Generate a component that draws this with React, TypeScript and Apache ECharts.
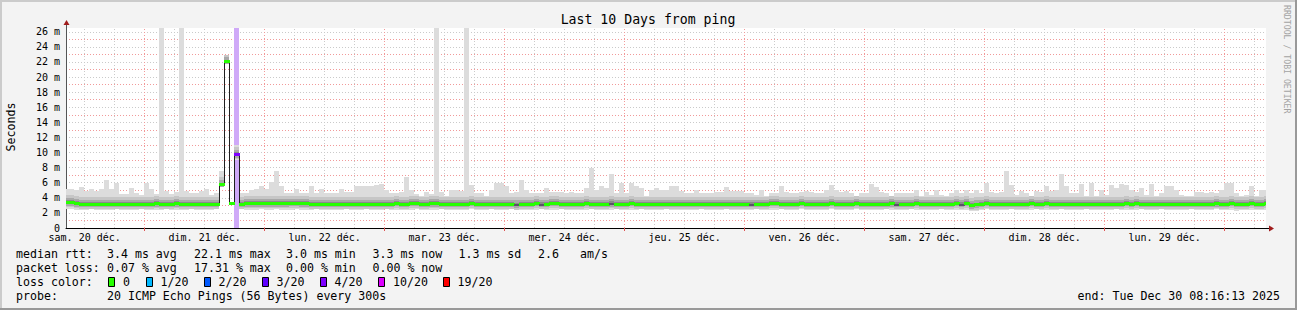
import React, { useEffect, useRef } from 'react';
import * as echarts from 'echarts';

// ---------- layout ----------
const CHART_W = 1297;
const CHART_H = 310;
const PLOT_LEFT = 66;
const PLOT_TOP = 28;
const PLOT_W = 1200;
const PLOT_H = 200;
const FONT = '"DejaVu Sans Mono", monospace';

// ---------- axes ----------
// x values are hours since Sat 20 Dec 2025 00:00
const START_HOUR = 8 + 16 / 60 + 13 / 3600; // 08:16:13
const END_HOUR = START_HOUR + 240; // 10 days later
const FIRST_BIN_HOUR = 8; // first (partial) one-hour bin starts 08:00
const BIN_HOURS = 1;
const Y_MAX = 26.5; // ms

const DAY_LABELS = [
  'sam. 20 déc.', 'dim. 21 déc.', 'lun. 22 déc.', 'mar. 23 déc.', 'mer. 24 déc.',
  'jeu. 25 déc.', 'ven. 26 déc.', 'sam. 27 déc.', 'dim. 28 déc.', 'lun. 29 déc.',
];
const DAY_LABEL_HOURS = [12, 36, 60, 84, 108, 132, 156, 180, 204, 228];
const MIDNIGHT_HOURS = [24, 48, 72, 96, 120, 144, 168, 192, 216, 240];
const SIX_HOUR_HOURS = [
  12, 18, 30, 36, 42, 54, 60, 66, 78, 84, 90, 102, 108, 114, 126, 132, 138,
  150, 156, 162, 174, 180, 186, 198, 204, 210, 222, 228, 234, 246,
];
const Y_UNIT = ' m';

// ---------- data: one value per hour, bins from Dec 20 08:00 to Dec 30 08:00 ----------
const MEDIAN = [
  3.35, 3.35, 3.2, 3.15, 3.15, 3.15, 3.15, 3.15, 3.15, 3.1, 3.1, 3.15, 3.15, 3.15, 3.15, 3.15, 3.15, 3.15, 3.2, 3.15, 3.15, 3.15, 3.2, 3.15,
  3.15, 3.15, 3.15, 3.15, 3.15, 3.15, 3.15, 5.7, 22.0, 3.2, 9.7, 3.15, 3.2, 3.2, 3.2, 3.2, 3.2, 3.2, 3.2, 3.2, 3.2, 3.25, 3.3, 3.2,
  3.2, 3.15, 3.15, 3.15, 3.15, 3.15, 3.15, 3.15, 3.15, 3.15, 3.15, 3.15, 3.15, 3.15, 3.15, 3.15, 3.15, 3.15, 3.3, 3.15, 3.15, 3.3, 3.3, 3.15,
  3.15, 3.2, 3.2, 3.15, 3.15, 3.15, 3.15, 3.15, 3.15, 3.3, 3.15, 3.15, 3.15, 3.15, 3.15, 3.15, 3.15, 3.15, 3.05, 3.15, 3.15, 3.15, 3.3, 3.1,
  3.15, 3.3, 3.3, 3.15, 3.15, 3.15, 3.15, 3.15, 3.3, 3.15, 3.15, 3.15, 3.15, 3.2, 3.15, 3.15, 3.15, 3.3, 3.15, 3.15, 3.15, 3.15, 3.15, 3.15,
  3.15, 3.15, 3.15, 3.15, 3.15, 3.15, 3.15, 3.15, 3.15, 3.15, 3.15, 3.15, 3.15, 3.15, 3.15, 3.15, 3.15, 3.1, 3.15, 3.15, 3.15, 3.3, 3.3, 3.15,
  3.15, 3.15, 3.15, 3.3, 3.15, 3.15, 3.15, 3.15, 3.15, 3.3, 3.15, 3.15, 3.15, 3.15, 3.3, 3.15, 3.15, 3.15, 3.15, 3.15, 3.15, 3.2, 3.1, 3.15,
  3.15, 3.15, 3.3, 3.15, 3.15, 3.15, 3.15, 3.15, 3.15, 3.15, 3.3, 3.1, 3.3, 2.95, 3.05, 3.15, 3.3, 3.15, 3.15, 3.15, 3.15, 3.15, 3.15, 3.15,
  3.15, 3.25, 3.15, 3.15, 3.3, 3.15, 3.15, 3.15, 3.15, 3.15, 3.15, 3.15, 3.15, 3.15, 3.15, 3.15, 3.15, 3.15, 3.15, 3.15, 3.3, 3.15, 3.3, 3.15,
  3.15, 3.15, 3.15, 3.15, 3.1, 3.15, 3.15, 3.15, 3.15, 3.15, 3.1, 3.15, 3.15, 3.15, 3.2, 3.15, 3.15, 3.3, 3.15, 3.15, 3.15, 3.25, 3.15, 3.15,
  3.3,
];

const SMOKE_MAX = [
  5.2, 5.2, 5.1, 5.4, 4.9, 5.2, 4.9, 5.2, 6.4, 5.2, 6.0, 4.5, 4.5, 5.3, 4.6, 4.4, 6.0, 5.2, 4.5, 26.5, 4.9, 4.5, 4.8, 26.5,
  4.9, 4.6, 4.6, 4.9, 5.2, 4.4, 4.6, 7.5, 22.9, 3.2, 11.0, 4.6, 4.6, 5.0, 5.2, 5.6, 5.2, 6.1, 7.5, 5.5, 4.6, 4.6, 5.2, 4.6,
  4.6, 5.5, 4.6, 5.2, 4.6, 4.6, 4.6, 5.2, 4.8, 4.8, 5.6, 5.6, 5.6, 5.6, 5.7, 5.8, 5.0, 4.6, 4.6, 4.8, 6.8, 5.0, 4.5, 4.3,
  4.8, 4.5, 26.5, 4.8, 4.3, 5.0, 5.1, 4.9, 26.5, 5.7, 4.7, 4.7, 4.3, 5.0, 5.9, 5.9, 5.5, 4.6, 4.8, 6.3, 5.0, 4.6, 4.6, 4.6,
  5.3, 4.8, 4.8, 4.8, 4.6, 4.8, 4.6, 4.6, 5.3, 7.9, 5.0, 5.6, 5.3, 7.1, 4.6, 5.9, 4.6, 6.0, 5.5, 5.3, 4.2, 5.0, 5.3, 5.0,
  5.1, 5.5, 5.5, 4.9, 4.6, 4.6, 5.1, 4.6, 4.6, 4.6, 4.8, 4.8, 5.4, 4.9, 4.9, 4.9, 4.6, 4.6, 4.4, 5.0, 4.2, 4.6, 4.6, 5.5,
  4.8, 4.6, 4.6, 4.8, 4.9, 4.8, 4.6, 4.6, 5.0, 5.7, 5.1, 4.8, 4.9, 4.6, 4.3, 4.6, 4.7, 5.8, 5.4, 4.8, 4.6, 4.3, 4.6, 4.6,
  4.7, 4.6, 5.0, 4.2, 4.8, 4.4, 5.0, 4.4, 4.3, 4.6, 5.1, 4.6, 5.0, 4.6, 5.1, 4.6, 5.9, 4.8, 4.6, 4.8, 7.5, 5.7, 4.4, 4.9,
  4.6, 4.2, 4.9, 4.8, 5.6, 4.9, 5.1, 7.1, 5.5, 4.6, 4.6, 5.8, 4.3, 5.9, 4.3, 5.0, 4.4, 5.7, 5.3, 5.8, 5.7, 5.1, 4.8, 5.3,
  4.4, 5.8, 4.3, 4.6, 5.6, 5.5, 5.1, 4.4, 4.3, 4.3, 4.8, 4.8, 4.7, 4.8, 4.6, 5.1, 6.0, 6.0, 4.7, 4.2, 4.4, 5.5, 4.2, 5.0,
  5.0,
];

const SMOKE_MIN = [
  2.5, 2.5, 2.45, 2.4, 2.45, 2.5, 2.4, 2.35, 2.45, 2.45, 2.5, 2.4, 2.45, 2.35, 2.45, 2.5, 2.45, 2.4, 2.4, 2.45, 2.5, 2.45, 2.35, 2.45,
  2.45, 2.5, 2.4, 2.45, 2.45, 2.4, 2.5, 5.4, 21.7, 3.2, 9.0, 2.5, 2.45, 2.4, 2.45, 2.5, 2.45, 2.4, 2.5, 2.45, 2.4, 2.45, 2.5, 2.45,
  2.4, 2.45, 2.5, 2.45, 2.4, 2.45, 2.35, 2.45, 2.5, 2.45, 2.4, 2.45, 2.5, 2.45, 2.45, 2.4, 2.5, 2.45, 2.4, 2.45, 2.35, 2.45, 2.5, 2.45,
  2.45, 2.4, 2.45, 2.5, 2.45, 2.4, 2.45, 2.45, 2.35, 2.5, 2.45, 2.4, 2.45, 2.5, 2.45, 2.4, 2.45, 2.5, 2.4, 2.45, 2.45, 2.35, 2.45, 2.5,
  2.45, 2.4, 2.45, 2.5, 2.4, 2.45, 2.45, 2.35, 2.45, 2.5, 2.45, 2.4, 2.45, 2.45, 2.5, 2.4, 2.45, 2.35, 2.45, 2.5, 2.45, 2.4, 2.45, 2.45,
  2.5, 2.45, 2.4, 2.45, 2.45, 2.35, 2.45, 2.5, 2.45, 2.4, 2.45, 2.45, 2.5, 2.4, 2.45, 2.45, 2.35, 2.45, 2.5, 2.45, 2.4, 2.45, 2.45, 2.5,
  2.45, 2.4, 2.45, 2.5, 2.45, 2.45, 2.35, 2.45, 2.4, 2.5, 2.45, 2.45, 2.4, 2.45, 2.5, 2.45, 2.35, 2.45, 2.45, 2.4, 2.5, 2.45, 2.45, 2.4,
  2.45, 2.5, 2.45, 2.4, 2.45, 2.45, 2.35, 2.5, 2.45, 2.4, 2.45, 2.45, 2.35, 2.2, 2.3, 2.45, 2.5, 2.45, 2.4, 2.45, 2.45, 2.5, 2.45, 2.4,
  2.45, 2.45, 2.5, 2.4, 2.45, 2.35, 2.45, 2.5, 2.45, 2.4, 2.45, 2.45, 2.5, 2.45, 2.4, 2.45, 2.35, 2.45, 2.5, 2.45, 2.45, 2.4, 2.45, 2.5,
  2.45, 2.4, 2.45, 2.5, 2.45, 2.45, 2.35, 2.45, 2.4, 2.5, 2.45, 2.45, 2.4, 2.45, 2.5, 2.45, 2.35, 2.45, 2.3, 2.45, 2.4, 2.45, 2.45, 2.45,
  2.45,
];

// inner smoke percentiles, read as distance (ms) below / above the median
const SMOKE_BELOW = [0.6, 0.38, 0.2];
const SMOKE_ABOVE = [1.0, 0.6, 0.32];
const SMOKE_COLORS = ['#dcdcdc', '#c6c6c6', '#a8a8a8', '#8a8a8a'];

const LOSS_COLORS = ['#26ff00', '#00b8ff', '#0059ff', '#5e00ff', '#7e00ff', '#dd00ff', '#ff0000'];
const LOSS_LABELS = ['0', '1/20', '2/20', '3/20', '4/20', '10/20', '19/20'];
const LOSS_EVENT_BINS = [34];
const LOSS_EVENT_LEVELS = [4];
const LOSS_BG_COLOR = '#cfa9f8';
const DARK_MEDIAN_BINS = [90, 95, 109, 137, 166, 179];
const DARK_MEDIAN_COLOR = '#5a5468';

// ---------- legend texts ----------
const RTT_STATS = ['3.4 ms avg', '22.1 ms max', '3.0 ms min', '3.3 ms now', '1.3 ms sd', '2.6', 'am/s'];
const RTT_STATS_X = [107, 194, 286, 372.5, 458.5, 538, 580];
const LOSS_STATS = ['0.07 % avg', '17.31 % max', '0.00 % min', '0.00 % now'];
const LOSS_STATS_X = [107, 194, 286, 372.5];
const LOSS_BOX_X = [108, 146, 204, 262, 320, 378, 443];
const LOSS_LABEL_X = [123, 160.5, 218.5, 276.5, 334.5, 393, 457.5];
const PROBE_TEXT = '20 ICMP Echo Pings (56 Bytes) every 300s';
const END_TEXT = 'end: Tue Dec 30 08:16:13 2025';
const TITLE = 'Last 10 Days from ping';
const Y_NAME = 'Seconds';
const WATERMARK = 'RRDTOOL / TOBI OETIKER';

const clamp = (v: number, a: number, b: number) => Math.max(a, Math.min(b, v));

function binPixels(api: any, t0: number) {
  const xa = Math.max(t0, START_HOUR);
  const xb = Math.min(t0 + BIN_HOURS, END_HOUR);
  if (xb <= xa) return null;
  return [Math.floor(api.coord([xa, 0])[0]), Math.floor(api.coord([xb, 0])[0])];
}
function yPix(api: any, v: number) {
  return Math.round(api.coord([START_HOUR, clamp(v, 0, Y_MAX)])[1]);
}

function txt(text: string, x: number, y: number, size: number, extra: any = {}) {
  return {
    type: 'text',
    x,
    y,
    silent: true,
    rotation: extra.rotation || 0,
    style: {
      text,
      fill: extra.fill || '#000000',
      fontSize: size,
      fontFamily: FONT,
      align: extra.align || 'left',
      verticalAlign: 'middle',
      textAlign: extra.align || 'left',
      textVerticalAlign: 'middle',
    },
  };
}

function buildOption() {
  const lossLevel = MEDIAN.map(() => 0);
  LOSS_EVENT_BINS.forEach((b, i) => { lossLevel[b] = LOSS_EVENT_LEVELS[i]; });
  DARK_MEDIAN_BINS.forEach((b) => { lossLevel[b] = -1; });

  const binData = MEDIAN.map((m, k) => [FIRST_BIN_HOUR + k * BIN_HOURS, SMOKE_MIN[k], SMOKE_MAX[k], m]);
  const lineData = MEDIAN.map((m, k) => [FIRST_BIN_HOUR + k * BIN_HOURS, m, k > 0 ? MEDIAN[k - 1] : m]);
  const bandData = MEDIAN.map((m, k) => [FIRST_BIN_HOUR + k * BIN_HOURS, m, lossLevel[k]]);
  const lossBgData = LOSS_EVENT_BINS.map((b, i) => [FIRST_BIN_HOUR + b * BIN_HOURS, LOSS_EVENT_LEVELS[i]]);
  const vgridData = [
    ...SIX_HOUR_HOURS.map((h) => [h, 0]),
    ...MIDNIGHT_HOURS.map((h) => [h, 1]),
  ];

  const bottom = PLOT_TOP + PLOT_H;
  const right = PLOT_LEFT + PLOT_W;
  const arrowColor = '#a01c1c';

  const graphics: any[] = [
    // 3D frame
    { type: 'rect', silent: true, shape: { x: 0, y: 0, width: CHART_W, height: 2 }, style: { fill: '#cbcbcb' } },
    { type: 'rect', silent: true, shape: { x: 0, y: 0, width: 2, height: CHART_H }, style: { fill: '#cbcbcb' } },
    { type: 'rect', silent: true, shape: { x: 0, y: CHART_H - 2, width: CHART_W, height: 2 }, style: { fill: '#999999' } },
    { type: 'rect', silent: true, shape: { x: CHART_W - 2, y: 0, width: 2, height: CHART_H }, style: { fill: '#999999' } },
    // axis extensions + arrows
    { type: 'line', silent: true, shape: { x1: PLOT_LEFT + 0.5, y1: PLOT_TOP, x2: PLOT_LEFT + 0.5, y2: PLOT_TOP - 3 }, style: { stroke: '#555555', lineWidth: 1 } },
    { type: 'polygon', silent: true, shape: { points: [[PLOT_LEFT + 0.5, PLOT_TOP - 8], [PLOT_LEFT - 2.5, PLOT_TOP - 3], [PLOT_LEFT + 3.5, PLOT_TOP - 3]] }, style: { fill: arrowColor } },
    { type: 'line', silent: true, shape: { x1: right, y1: bottom + 0.5, x2: right + 3, y2: bottom + 0.5 }, style: { stroke: '#000000', lineWidth: 1 } },
    { type: 'polygon', silent: true, shape: { points: [[right + 8, bottom + 0.5], [right + 3, bottom - 2.5], [right + 3, bottom + 3.5]] }, style: { fill: arrowColor } },
    // title, axis name, watermark
    txt(TITLE, 648, 19, 13.2, { align: 'center' }),
    txt(Y_NAME, 11, 127, 11.6, { align: 'center', rotation: Math.PI / 2 }),
    txt(WATERMARK, 1287, 5, 8.2, { rotation: -Math.PI / 2, fill: '#a3a3a3' }),
    // legend rows
    txt('median rtt:', 16, 254, 11.6),
    ...RTT_STATS.map((s, i) => txt(s, RTT_STATS_X[i], 254, 11.6)),
    txt('packet loss:', 16, 268, 11.6),
    ...LOSS_STATS.map((s, i) => txt(s, LOSS_STATS_X[i], 268, 11.6)),
    txt('loss color:', 16, 282, 11.6),
    ...LOSS_COLORS.map((c, i) => ({
      type: 'rect', silent: true,
      shape: { x: LOSS_BOX_X[i] + 0.5, y: 277.5, width: 6, height: 9 },
      style: { fill: c, stroke: '#000000', lineWidth: 1 },
    })),
    ...LOSS_LABELS.map((s, i) => txt(s, LOSS_LABEL_X[i], 282, 11.6)),
    txt('probe:', 16, 296, 11.6),
    txt(PROBE_TEXT, 107, 296, 11.6),
    txt(END_TEXT, 1280, 296, 11.6, { align: 'right' }),
  ];

  return {
    animation: false,
    backgroundColor: '#f3f3f3',
    grid: {
      left: PLOT_LEFT, top: PLOT_TOP, width: PLOT_W, height: PLOT_H,
      show: true, backgroundColor: '#ffffff', borderWidth: 0, containLabel: false,
    },
    xAxis: {
      type: 'value',
      min: START_HOUR,
      max: END_HOUR,
      axisLine: { show: true, onZero: false, lineStyle: { color: '#000000', width: 1 } },
      axisTick: { show: true, customValues: MIDNIGHT_HOURS, length: 3, lineStyle: { color: '#e05555' } },
      axisLabel: {
        show: true,
        customValues: DAY_LABEL_HOURS,
        formatter: (v: number) => DAY_LABELS[DAY_LABEL_HOURS.indexOf(Math.round(v))] || '',
        fontFamily: FONT, fontSize: 10, color: '#000000', margin: 4,
      },
      splitLine: { show: false },
    },
    yAxis: {
      type: 'value',
      min: 0,
      max: Y_MAX,
      interval: 1,
      axisLine: { show: true, lineStyle: { color: '#555555', width: 1 } },
      axisTick: { show: false },
      axisLabel: {
        formatter: (v: number) => (v === 0 ? '0' : (Number.isInteger(v) && v % 2 === 0 ? `${v}${Y_UNIT}` : '')),
        fontFamily: FONT, fontSize: 10, color: '#000000', margin: 6,
      },
      splitLine: {
        show: true,
        showMinLine: false,
        showMaxLine: false,
        lineStyle: { color: ['#f19a9a', '#cacaca'], type: [1, 2], width: 1 },
      },
    },
    graphic: { elements: graphics },
    series: [
      {
        // vertical grid (6 h grey, midnight red)
        type: 'custom', name: 'vgrid', silent: true, z: 1,
        data: vgridData,
        renderItem: (params: any, api: any) => {
          const h = api.value(0);
          const major = api.value(1) === 1;
          const p0 = api.coord([h, 0]);
          const p1 = api.coord([h, Y_MAX]);
          const x = Math.floor(p0[0]) + 0.5;
          return {
            type: 'line',
            shape: { x1: x, y1: p0[1], x2: x, y2: p1[1] },
            style: { stroke: major ? '#f19a9a' : '#cacaca', lineWidth: 1, lineDash: [1, 2] },
          };
        },
      },
      {
        // loss background column
        type: 'custom', name: 'lossbg', silent: true, z: 2,
        data: lossBgData,
        renderItem: (params: any, api: any) => {
          const px = binPixels(api, api.value(0));
          if (!px) return null;
          const yT = yPix(api, Y_MAX);
          const yB = yPix(api, 0);
          return { type: 'rect', shape: { x: px[0], y: yT, width: px[1] - px[0], height: yB - yT }, style: { fill: LOSS_BG_COLOR } };
        },
      },
      {
        // smoke
        type: 'custom', name: 'smoke', silent: true, z: 3,
        data: binData,
        renderItem: (params: any, api: any) => {
          const t0 = api.value(0);
          const lo = api.value(1);
          const hi = api.value(2);
          const med = api.value(3);
          const px = binPixels(api, t0);
          if (!px) return null;
          const layers: number[][] = [[lo, hi]];
          SMOKE_BELOW.forEach((b, i) => {
            layers.push([clamp(med - b, lo, hi), clamp(med + SMOKE_ABOVE[i], lo, hi)]);
          });
          const children: any[] = [];
          layers.forEach((ab, i) => {
            const yT = yPix(api, ab[1]);
            const yB = yPix(api, ab[0]);
            if (yB - yT <= 0) return;
            children.push({
              type: 'rect',
              shape: { x: px[0], y: yT, width: px[1] - px[0], height: yB - yT },
              style: { fill: SMOKE_COLORS[i] },
            });
          });
          return { type: 'group', children };
        },
      },
      {
        // median line (black, visible at steps)
        type: 'custom', name: 'median', silent: true, z: 4,
        data: lineData,
        renderItem: (params: any, api: any) => {
          const px = binPixels(api, api.value(0));
          if (!px) return null;
          const y = yPix(api, api.value(1)) + 0.5;
          const yp = yPix(api, api.value(2)) + 0.5;
          const children: any[] = [
            { type: 'line', shape: { x1: px[0], y1: y, x2: px[1], y2: y }, style: { stroke: '#202020', lineWidth: 1 } },
          ];
          if (Math.abs(y - yp) > 0.1) {
            children.push({ type: 'line', shape: { x1: px[0] + 0.5, y1: yp, x2: px[0] + 0.5, y2: y }, style: { stroke: '#202020', lineWidth: 1 } });
          }
          return { type: 'group', children };
        },
      },
      {
        // loss-coloured median band
        type: 'custom', name: 'loss', silent: true, z: 5,
        data: bandData,
        renderItem: (params: any, api: any) => {
          const px = binPixels(api, api.value(0));
          if (!px) return null;
          const lvl = api.value(2);
          const yc = api.coord([START_HOUR, api.value(1)])[1];
          const dark = lvl < 0;
          const h = dark ? 2 : 3;
          const yT = Math.round(yc - h / 2);
          return {
            type: 'rect',
            shape: { x: px[0], y: yT, width: px[1] - px[0] + (px[1] < PLOT_LEFT + PLOT_W ? 1 : 0), height: h },
            style: { fill: dark ? DARK_MEDIAN_COLOR : LOSS_COLORS[lvl] },
          };
        },
      },
    ],
  };
}

export default function App() {
  const ref = useRef<HTMLDivElement>(null);
  useEffect(() => {
    if (!ref.current) return undefined;
    const chart = echarts.init(ref.current, null, { renderer: 'svg' });
    chart.setOption(buildOption() as any);
    return () => { chart.dispose(); };
  }, []);
  return (
    <div
      ref={ref}
      style={{ position: 'absolute', left: 0, top: 0, width: CHART_W, height: CHART_H }}
    />
  );
}
